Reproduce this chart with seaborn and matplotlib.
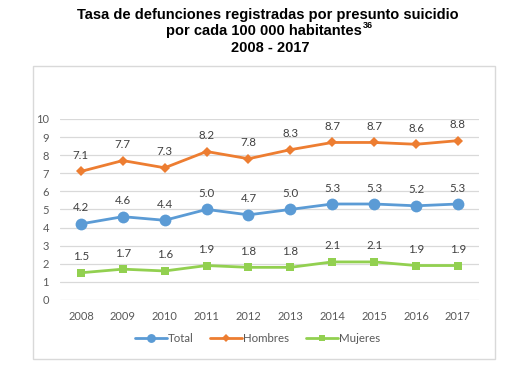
import pandas as pd
import seaborn as sns
import matplotlib.pyplot as plt
from matplotlib.patches import Rectangle
from matplotlib.lines import Line2D

# ========== datos ==========
years = [2008, 2009, 2010, 2011, 2012, 2013, 2014, 2015, 2016, 2017]
total = [4.2, 4.6, 4.4, 5.0, 4.7, 5.0, 5.3, 5.3, 5.2, 5.3]
hombres = [7.1, 7.7, 7.3, 8.2, 7.8, 8.3, 8.7, 8.7, 8.6, 8.8]
mujeres = [1.5, 1.7, 1.6, 1.9, 1.8, 1.8, 2.1, 2.1, 1.9, 1.9]
series_names = ['Total', 'Hombres', 'Mujeres']
# ===========================

sns.set_style('white')
plt.rcParams['font.family'] = ['Lato', 'DejaVu Sans']

colors = {'Total': '#5B9BD5', 'Hombres': '#ED7D31', 'Mujeres': '#92D050'}
markers = {'Total': 'o', 'Hombres': 'D', 'Mujeres': 's'}
msizes = {'Total': 8.5, 'Hombres': 5, 'Mujeres': 6}

df = pd.DataFrame({'year': years * 3,
                   'serie': sum([[s] * len(years) for s in series_names], []),
                   'valor': total + hombres + mujeres})
df['pos'] = df['year'].map({y: i for i, y in enumerate(years)})

fig = plt.figure(figsize=(5.1, 3.68), dpi=100)
ax = fig.add_axes([0.1176, 0.185, 0.8214, 0.4918])

# marco del gráfico
fig.patches.append(Rectangle((33 / 510, 1 - 359 / 368), (495 - 33) / 510, (359 - 66) / 368,
                             transform=fig.transFigure, fill=False,
                             edgecolor='#D9D9D9', lw=1))

for s in series_names:
    sub = df[df['serie'] == s]
    sns.lineplot(data=sub, x='pos', y='valor', ax=ax, color=colors[s],
                 marker=markers[s], markersize=msizes[s], markeredgewidth=0,
                 linewidth=2, legend=False)
    for _, r in sub.iterrows():
        ax.annotate(f"{r['valor']:.1f}", (r['pos'], r['valor']),
                    xytext=(0, 11.5), textcoords='offset points',
                    ha='center', va='center', fontsize=8.3, color='#404040')

ax.set_xlim(-0.5, len(years) - 0.5)
ax.set_ylim(0, 10)
ax.set_yticks(range(0, 11))
ax.set_xticks(range(len(years)))
ax.set_xticklabels([str(y) for y in years])
ax.set_xlabel('')
ax.set_ylabel('')
ax.yaxis.grid(True, color='#D9D9D9', lw=0.9)
ax.set_axisbelow(True)
for sp in ax.spines.values():
    sp.set_visible(False)
ax.tick_params(axis='both', length=0, labelsize=8, colors='#595959')
ax.tick_params(axis='y', pad=8)
ax.tick_params(axis='x', pad=8)

handles = [Line2D([], [], color=colors[s], marker=markers[s], markersize=msizes[s] * 0.75,
                  markeredgewidth=0, lw=2) for s in series_names]
fig.legend(handles, series_names, loc='center', bbox_to_anchor=(0.505, 1 - 339 / 368),
           ncol=3, frameon=False, fontsize=8.3, handlelength=2.8, handletextpad=0.1,
           columnspacing=1.4, labelcolor='#595959')

tkw = dict(va='center', fontsize=10.5, fontweight='bold',
           family='Liberation Sans', color='black')
fig.text(268 / 510, 1 - 15 / 368, 'Tasa de defunciones registradas por presunto suicidio',
         ha='center', **tkw)
fig.text(270 / 510, 1 - 48 / 368, '2008 - 2017', ha='center', **tkw)

# segunda línea con superíndice
line2 = fig.text(0, 1 - 31 / 368, 'por cada 100 000 habitantes', ha='left', **tkw)
sup = fig.text(0, 1 - 26 / 368, '36', ha='left', va='center', fontsize=6.5,
               fontweight='bold', family='Liberation Sans', color='black')
r = fig.canvas.get_renderer()
w1 = line2.get_window_extent(r).width
w2 = sup.get_window_extent(r).width
x0 = 269 - (w1 + w2) / 2
line2.set_x(x0 / 510)
sup.set_x((x0 + w1 + 0.5) / 510)

plt.savefig('out.png', dpi=100)
